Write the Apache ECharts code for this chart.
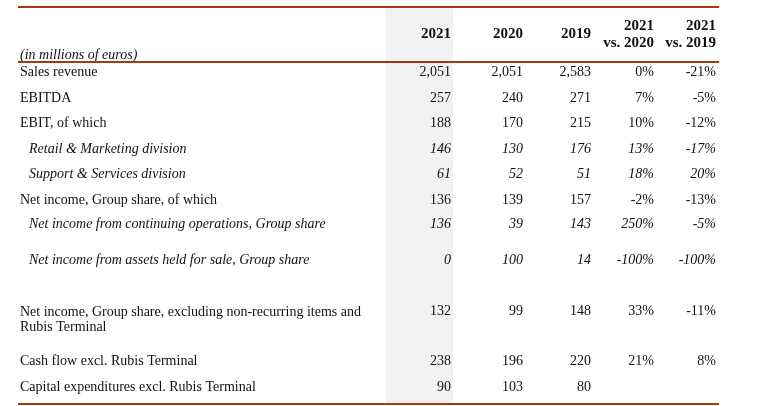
<!DOCTYPE html>
<html>
<head>
<meta charset="utf-8">
<script src="https://cdn.jsdelivr.net/npm/echarts@6/dist/echarts.min.js"></script>
<style>
  html, body { margin: 0; padding: 0; background: #ffffff; }
  #chart { width: 763px; height: 406px; }
</style>
</head>
<body>
<div id="chart"></div>
<script>
// ---------- data ----------
const unitNote = '(in millions of euros)';
const columnHeaders = ['2021', '2020', '2019', '2021\nvs. 2020', '2021\nvs. 2019'];
const rowLabels = [
  'Sales revenue',
  'EBITDA',
  'EBIT, of which',
  'Retail & Marketing division',
  'Support & Services division',
  'Net income, Group share, of which',
  'Net income from continuing operations, Group share',
  'Net income from assets held for sale, Group share',
  'Net income, Group share, excluding non-recurring items and\nRubis Terminal',
  'Cash flow excl. Rubis Terminal',
  'Capital expenditures excl. Rubis Terminal'
];
const values2021 = [2051, 257, 188, 146, 61, 136, 136, 0, 132, 238, 90];
const values2020 = [2051, 240, 170, 130, 52, 139, 39, 100, 99, 196, 103];
const values2019 = [2583, 271, 215, 176, 51, 157, 143, 14, 148, 220, 80];
const change2021vs2020 = [0, 7, 10, 13, 18, -2, 250, -100, 33, 21, null];
const change2021vs2019 = [-21, -5, -12, -17, 20, -13, -5, -100, -11, 8, null];

// ---------- layout / style ----------
const italicRows = [3, 4, 6, 7];
const colSizes = [368, 67, 73, 68, 63, 62];
const colRightPad = [2, 3, 3, 3, 3];
const dataRowSizes = [26, 25, 26, 25, 26, 24, 36, 51, 50, 26, 25];
const ruleSize = 2;
const headerSize = 53;
const ruleColor = '#A33B0C';
const shadeColor = '#F2F2F2';
const textColor = '#111111';
const FONT = '"Liberation Serif", "Times New Roman", serif';

const rowSizes = [ruleSize, headerSize, ruleSize].concat(dataRowSizes, [ruleSize]);
const xDim = colSizes.map((s, i) => ({ value: 'c' + i, size: s }));
const yDim = rowSizes.map((s, i) => ({ value: 'r' + i, size: s }));

const fmtNum = v => v.toLocaleString('en-US');
const fmtPct = v => (v === null ? '' : v + '%');
const columns = [
  values2021.map(fmtNum),
  values2020.map(fmtNum),
  values2019.map(fmtNum),
  change2021vs2020.map(fmtPct),
  change2021vs2019.map(fmtPct)
];

const cells = [];
const lastRow = rowSizes.length - 1;
// rules
[0, 2, lastRow].forEach(r => {
  for (let c = 0; c < colSizes.length; c++) {
    cells.push({ coord: ['c' + c, 'r' + r], value: '', itemStyle: { color: ruleColor, borderWidth: 0 } });
  }
});
// header
cells.push({
  coord: ['c0', 'r1'], value: unitNote,
  label: { fontStyle: 'italic', fontSize: 14, align: 'left', verticalAlign: 'bottom', position: 'insideBottomLeft', distance: 0, lineHeight: 10.5, padding: [0, 0, 0, 2], overflow: 'none' }
});
columnHeaders.forEach((h, i) => {
  cells.push({
    coord: ['c' + (i + 1), 'r1'], value: h,
    itemStyle: i === 0 ? { color: shadeColor, borderWidth: 0 } : undefined,
    label: { fontWeight: 'bold', fontSize: 15, align: 'right', position: 'insideRight', distance: 0, lineHeight: 17, padding: [7, colRightPad[i], 0, 0], overflow: 'none' }
  });
});
// body
rowLabels.forEach((lab, r) => {
  const italic = italicRows.indexOf(r) >= 0;
  const multi = lab.indexOf('\n') >= 0;
  const row = 'r' + (r + 3);
  cells.push({
    coord: ['c0', row], value: lab,
    label: {
      fontStyle: italic ? 'italic' : 'normal', align: 'left', verticalAlign: 'top',
      position: 'insideTopLeft', distance: 0, lineHeight: multi ? 15 : 13,
      padding: [3, 0, 0, italic ? 11 : 2], overflow: 'none'
    }
  });
  columns.forEach((col, ci) => {
    cells.push({
      coord: ['c' + (ci + 1), row], value: col[r],
      itemStyle: ci === 0 ? { color: shadeColor, borderWidth: 0 } : undefined,
      label: { fontStyle: italic ? 'italic' : 'normal', align: 'right', verticalAlign: 'top', position: 'insideTopRight', distance: 0, lineHeight: 13, padding: [3, colRightPad[ci], 0, 0], overflow: 'none' }
    });
  });
});

const chart = echarts.init(document.getElementById('chart'), null, { renderer: 'canvas' });
chart.setOption({
  animation: false,
  backgroundColor: '#ffffff',
  textStyle: { fontFamily: FONT },
  matrix: {
    left: 18, top: 6, width: 701, height: 399,
    x: { show: false, data: xDim },
    y: { show: false, data: yDim },
    backgroundStyle: { color: 'transparent', borderWidth: 0 },
    body: {
      itemStyle: { color: 'transparent', borderWidth: 0 },
      label: { fontFamily: FONT, fontSize: 14, color: textColor },
      data: cells
    }
  }
});
</script>
</body>
</html>
